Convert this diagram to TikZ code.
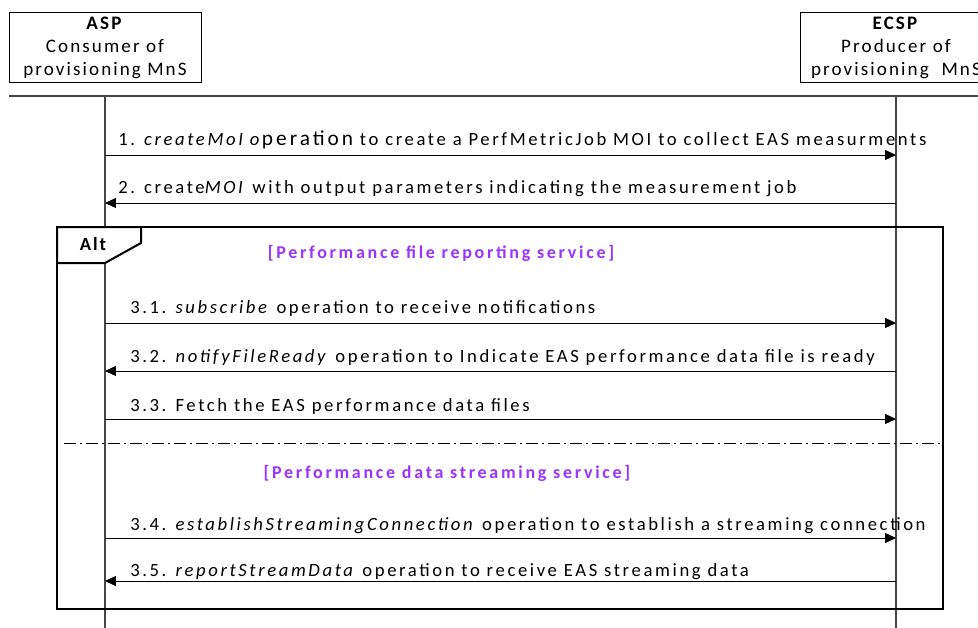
\documentclass[tikz,border=0pt]{standalone}
\usepackage{fontspec}
\usepackage{tikz}
\usetikzlibrary{arrows.meta}
\setmainfont{Carlito}
\definecolor{guardpurple}{RGB}{153,51,255}
\definecolor{lifegray}{RGB}{70,70,70}
\newcommand{\msgfont}{\fontsize{14}{14}\selectfont\addfontfeature{LetterSpace=14}}
\newcommand{\headfont}{\fontsize{14.3}{17.25}\selectfont\addfontfeature{LetterSpace=11}}

\tikzset{
	party/.style={draw, line width=0.75pt, minimum width=144pt, minimum height=53pt, align=center, font=\headfont, inner sep=0pt},
	msg/.style={anchor=base west, inner sep=0pt, font=\msgfont},
	call/.style={-{Triangle[length=8.2pt,width=7.5pt]}, line width=0.75pt},
	guard/.style={anchor=base, inner sep=0pt, text=guardpurple, font=\fontsize{13.5}{14}\selectfont\bfseries\addfontfeature{LetterSpace=15}},
	life/.style={lifegray, line width=0.8pt}
}

\begin{document}
\begin{tikzpicture}[x=0.75pt,y=-0.75pt]
	\useasboundingbox (0,0) rectangle (978,628);
	\clip (0,0) rectangle (978,628);
	% parties
	\node[party] (asp) at (105,47.5) {\textbf{ASP}\\Consumer of\\provisioning MnS};
	\node[party] (ecsp) at (896,47.5) {\textbf{ECSP}\\Producer of\\provisioning\ \ MnS};
	\coordinate (rulel) at (9,96);
	\coordinate (ruler) at (978,96);
	\draw[lifegray, line width=1.2pt] (rulel) -- (ruler);
	% lifelines
	\coordinate (asptop) at (105,96);
	\coordinate (aspbot) at (105,628);
	\coordinate (ecsptop) at (896,96);
	\coordinate (ecspbot) at (896,628);
	\draw[life] (asptop) -- (aspbot);
	\draw[life] (ecsptop) -- (ecspbot);
	% alt frame
	\coordinate (altnw) at (57,227);
	\coordinate (altse) at (943,609);
	\draw[line width=1.5pt] (altnw) rectangle (altse);
	\filldraw[fill=white, line width=1.5pt] (altnw) -- ++(84,0) -- ++(0,16) -- ++(-36,20) -- ++(-48,0) -- cycle;
	\node[font=\fontsize{14}{14}\selectfont\bfseries\addfontfeature{LetterSpace=10}] (alt) at (93,244) {Alt};
	\coordinate (sepl) at (64,443);
	\coordinate (sepr) at (943,443);
	\draw[line width=0.75pt, dash pattern=on 9pt off 3pt on 1.5pt off 3pt] (sepl) -- (sepr);
	\node[guard] (g1) at (441,258) {[Performance file reporting service]};
	\node[guard] (g2) at (447,478) {[Performance data streaming service]};
	% messages
	\foreach \y/\name in {155/m1,203/m2,323/m31,371/m32,419/m33,538/m34,581/m35}
		\coordinate (\name) at (0,\y);
	\draw[call] (asptop |- m1) -- (ecsptop |- m1);
	\draw[call] (ecsptop |- m2) -- (asptop |- m2);
	\draw[call] (asptop |- m31) -- (ecsptop |- m31);
	\draw[call] (ecsptop |- m32) -- (asptop |- m32);
	\draw[call] (asptop |- m33) -- (ecsptop |- m33);
	\draw[call] (asptop |- m34) -- (ecsptop |- m34);
	\draw[call] (ecsptop |- m35) -- (asptop |- m35);
	\node[msg] (t1) at (118,145) {1. \textit{createMoI o}{\fontsize{16}{14}\selectfont peration} to create a PerfMetricJob MOI to collect EAS measurments};
	\node[msg] (t2) at (118,193) {2. create\textit{MOI} with output parameters indicating the measurement job};
	\node[msg] (t31) at (130,313) {3.1. \textit{subscribe} operation to receive notifications};
	\node[msg] (t32) at (130,362) {3.2. \textit{notifyFileReady} operation to Indicate EAS performance data file is ready};
	\node[msg] (t33) at (130,411) {3.3. Fetch the EAS performance data files};
	\node[msg] (t34) at (130,530) {3.4. \textit{establishStreamingConnection} operation to establish a streaming connection};
	\node[msg] (t35) at (130,576) {3.5. \textit{reportStreamData} operation to receive EAS streaming data};
\end{tikzpicture}
\end{document}
